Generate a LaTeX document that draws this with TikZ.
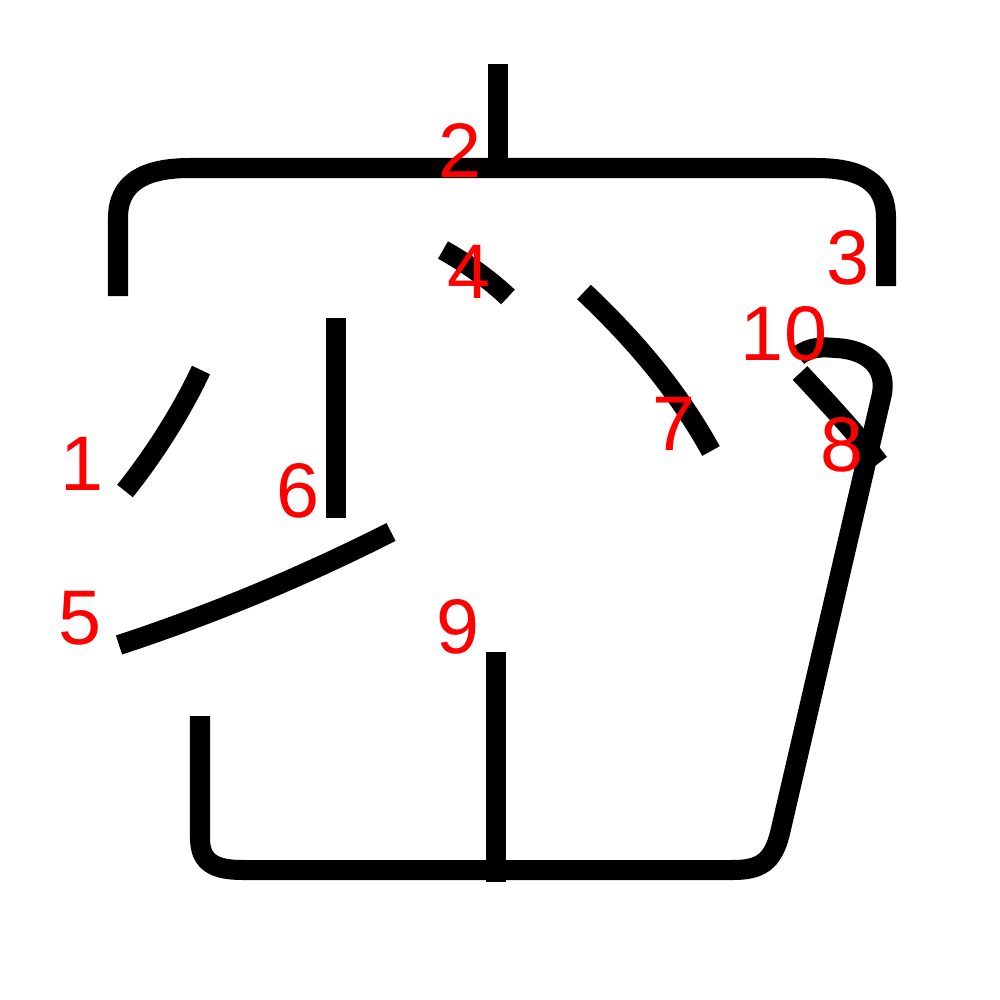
\documentclass[tikz,border=0pt]{standalone}
\usepackage{fontspec}
\setmainfont{Liberation Sans}
\begin{document}
\begin{tikzpicture}[x=0.01cm,y=-0.01cm,
    stroke/.style={line width=0.2cm,black},
    num/.style={text=red,font=\fontsize{22}{22}\selectfont,inner sep=0pt}]
    \useasboundingbox (0,0) rectangle (1000,1000);

    \draw[stroke] (125,491) .. controls (150,460) and (180,415) .. (201,370);
    \draw[stroke] (498,64) -- (498,168);
    \draw[stroke] (118,296) -- (118,218) .. controls (118,182) and (145,168) .. (190,168) -- (816,168) .. controls (861,168) and (886,182) .. (886,218) -- (886,286);
    \draw[stroke] (443,250) .. controls (468,264) and (490,280) .. (508,297);
    \draw[stroke] (119,645) .. controls (210,615) and (300,578) .. (391,532);
    \draw[stroke] (336,318) -- (336,518);
    \draw[stroke] (584,292) .. controls (640,345) and (680,395) .. (711,451);
    \draw[stroke] (800,373) .. controls (830,405) and (855,432) .. (879,463);
    \draw[stroke] (496,652) -- (496,882);
    \draw[stroke] (798,356) .. controls (810,346) and (825,347) .. (835,348) .. controls (868,349) and (889,368) .. (881,398) -- (780,833) .. controls (773,862) and (760,870) .. (733,870) -- (243,870) .. controls (215,870) and (200,863) .. (200,838) -- (200,716);

    \node[num] (1) at (82,464) {1};
    \node[num] (2) at (460,150) {2};
    \node[num] (3) at (848,258) {3};
    \node[num] (4) at (469,272) {4};
    \node[num] (5) at (80,618) {5};
    \node[num] (6) at (298,491) {6};
    \node[num] (7) at (674,424) {7};
    \node[num] (8) at (842,445) {8};
    \node[num] (9) at (458,627) {9};
    \node[num] (10) at (784,334) {10};
\end{tikzpicture}
\end{document}
